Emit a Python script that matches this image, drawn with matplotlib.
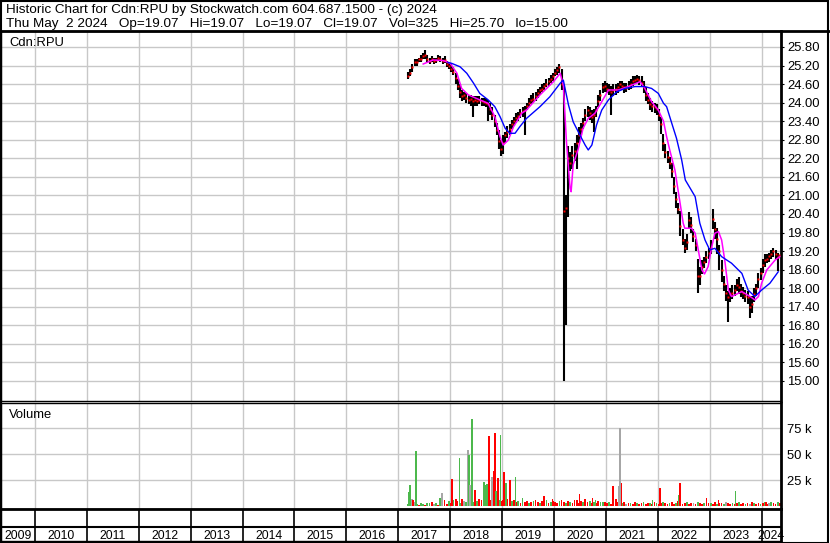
import matplotlib
matplotlib.use('Agg')
import matplotlib.pyplot as plt
from matplotlib.patches import Rectangle
from matplotlib.lines import Line2D
import numpy as np
import pandas as pd

plt.rcParams['font.family'] = ['Liberation Sans', 'DejaVu Sans']

W, H = 830, 543

# ---------------- data ----------------
title1 = "Historic Chart for Cdn:RPU by Stockwatch.com 604.687.1500 - (c) 2024"
title2 = ("Thu May  2 2024   Op=19.07   Hi=19.07   Lo=19.07   Cl=19.07   "
          "Vol=325   Hi=25.70   lo=15.00")
symbol = "Cdn:RPU"

years = list(range(2009, 2025))
price_ticks = [15.00, 15.60, 16.20, 16.80, 17.40, 18.00, 18.60, 19.20, 19.80, 20.40,
               21.00, 21.60, 22.20, 22.80, 23.40, 24.00, 24.60, 25.20, 25.80]
vol_ticks = [25, 50, 75]
vol_tick_labels = ["25 k", "50 k", "75 k"]

# half-month bars, March 2017 .. 2 May 2024
months = pd.period_range("2017-03", "2024-05", freq="M")

close = [
    24.85, 24.95, 25.15, 25.30, 25.30, 25.40, 25.40, 25.50, 25.55, 25.40, 25.35, 25.40, 25.35, 25.38, 25.45, 25.42, 25.35, 25.38, 25.25, 25.20,
    25.10, 25.00, 24.80, 24.55, 24.35, 24.20, 24.25, 24.15, 24.10, 24.12, 24.05, 24.08, 24.05, 24.10, 24.05, 24.02, 24.00, 23.95, 23.80, 23.60, 23.40, 23.10, 22.75, 22.50,
    22.70, 22.95, 23.05, 23.15, 23.30, 23.40, 23.50, 23.58, 23.65, 23.72, 23.75, 23.90, 24.00, 24.10, 24.12, 24.20, 24.30, 24.40, 24.45, 24.55, 24.60, 24.70, 24.75, 24.85,
    24.95, 25.05, 25.15, 24.60, 20.50, 20.60, 22.20, 22.05, 22.30, 22.45, 22.70, 22.95, 23.15, 23.35, 23.60, 23.75, 23.65, 23.55, 23.60, 23.75, 24.05, 24.25, 24.50, 24.55,
    24.45, 24.40, 24.35, 24.40, 24.45, 24.50, 24.60, 24.55, 24.50, 24.48, 24.55, 24.60, 24.70, 24.72, 24.78, 24.72, 24.65, 24.50, 24.25, 24.10, 23.95, 23.90, 23.85, 23.80,
    23.60, 23.30, 22.70, 22.40, 22.25, 22.05, 21.80, 21.30, 20.90, 20.55, 20.00, 19.55, 19.30, 19.50, 20.20, 20.05, 19.70, 19.40, 18.40, 18.40, 18.70, 18.85, 19.00, 19.15,
    19.30, 20.25, 19.90, 19.60, 19.20, 18.60, 18.15, 17.85, 17.70, 17.80, 17.85, 17.95, 18.10, 18.05, 17.90, 17.85, 17.75, 17.70, 17.40, 17.50, 17.80, 18.00, 18.30, 18.50,
    18.75, 18.90, 18.95, 19.05, 19.10, 19.20, 19.10, 19.00, 19.07]
high = [
    25.00, 25.10, 25.25, 25.40, 25.40, 25.45, 25.55, 25.60, 25.70, 25.55, 25.45, 25.50, 25.45, 25.45, 25.55, 25.52, 25.45, 25.50, 25.35, 25.30,
    25.25, 25.15, 24.95, 24.75, 24.60, 24.40, 24.35, 24.30, 24.25, 24.25, 24.20, 24.20, 24.20, 24.20, 24.15, 24.15, 24.15, 24.10, 24.00, 23.85, 23.60, 23.35, 23.10, 22.80,
    22.95, 23.05, 23.25, 23.30, 23.45, 23.55, 23.65, 23.70, 23.80, 23.85, 23.90, 24.00, 24.15, 24.25, 24.30, 24.35, 24.45, 24.50, 24.60, 24.65, 24.75, 24.80, 24.90, 24.95,
    25.10, 25.15, 25.25, 25.10, 24.50, 21.00, 22.60, 22.40, 22.60, 22.70, 22.95, 23.20, 23.35, 23.50, 23.80, 23.90, 23.85, 23.75, 23.80, 23.90, 24.25, 24.40, 24.65, 24.70,
    24.65, 24.60, 24.55, 24.60, 24.60, 24.65, 24.70, 24.70, 24.65, 24.62, 24.70, 24.75, 24.85, 24.85, 24.90, 24.85, 24.85, 24.70, 24.50, 24.30, 24.15, 24.05, 24.00, 23.95,
    23.80, 23.55, 23.00, 22.65, 22.45, 22.25, 22.05, 21.60, 21.10, 20.75, 20.50, 19.90, 19.60, 19.75, 20.45, 20.30, 19.90, 19.60, 18.95, 18.70, 18.90, 19.00, 19.20, 19.30,
    19.55, 20.55, 20.15, 19.95, 19.40, 18.90, 18.40, 18.10, 17.90, 18.00, 18.10, 18.10, 18.30, 18.35, 18.15, 18.05, 17.95, 17.90, 17.75, 17.75, 18.00, 18.15, 18.50, 18.65,
    18.95, 19.10, 19.10, 19.15, 19.25, 19.30, 19.25, 19.15, 19.07]
low = [
    24.75, 24.85, 25.00, 25.20, 25.20, 25.30, 25.30, 25.40, 25.40, 25.30, 25.25, 25.30, 25.25, 25.28, 25.35, 25.30, 25.25, 25.28, 25.15, 25.10,
    25.00, 24.90, 24.60, 24.40, 24.15, 24.05, 24.10, 24.00, 23.95, 23.90, 23.55, 23.90, 23.90, 23.95, 23.90, 23.90, 23.85, 23.40, 23.60, 23.45, 23.20, 22.95, 22.50, 22.28,
    22.35, 22.70, 22.85, 22.95, 23.15, 23.25, 23.35, 23.40, 23.50, 23.55, 22.95, 23.75, 23.85, 23.95, 24.00, 24.05, 24.15, 24.25, 24.35, 24.40, 24.50, 24.55, 24.65, 24.70,
    24.85, 24.90, 24.95, 24.40, 15.00, 16.80, 20.30, 21.80, 21.85, 22.10, 21.85, 22.70, 22.95, 23.15, 23.40, 23.55, 23.45, 23.35, 23.05, 23.55, 23.85, 24.05, 24.30, 24.35,
    24.30, 24.25, 23.60, 24.20, 24.25, 24.30, 24.45, 24.40, 24.30, 24.35, 24.40, 24.45, 24.55, 24.60, 24.62, 24.58, 24.50, 24.30, 24.05, 23.95, 23.75, 23.70, 23.65, 23.60,
    23.40, 23.00, 22.45, 22.20, 22.05, 21.85, 21.55, 21.05, 20.60, 20.40, 19.70, 19.40, 19.15, 19.25, 19.90, 19.80, 19.50, 19.20, 17.85, 18.10, 18.45, 18.65, 18.80, 18.95,
    19.10, 19.90, 19.60, 19.10, 18.60, 18.20, 17.90, 17.60, 16.92, 17.55, 17.65, 17.75, 17.90, 17.80, 17.70, 17.65, 17.55, 17.50, 17.05, 17.20, 17.55, 17.75, 18.00, 18.25,
    18.50, 18.70, 18.80, 18.85, 18.95, 19.00, 18.95, 18.55, 19.07]

# short moving average (magenta)
ma_short_x = [2017.48, 2017.67, 2017.87, 2018.00, 2018.13, 2018.22, 2018.35, 2018.57, 2018.73,
              2018.86, 2018.96, 2019.02, 2019.12, 2019.22, 2019.38, 2019.47, 2019.73, 2019.99,
              2020.12, 2020.18, 2020.24, 2020.31, 2020.33, 2020.37, 2020.47, 2020.56, 2020.66,
              2020.79, 2020.92, 2021.05, 2021.24, 2021.43, 2021.66, 2021.75, 2021.88, 2022.01,
              2022.11, 2022.17, 2022.23, 2022.33, 2022.40, 2022.49, 2022.52, 2022.65, 2022.72,
              2022.78, 2022.85, 2022.90, 2022.97, 2023.04, 2023.10, 2023.17, 2023.23, 2023.29,
              2023.36, 2023.42, 2023.62, 2023.78, 2023.87, 2023.94, 2024.00, 2024.10, 2024.26,
              2024.35]
ma_short_y = [25.25, 25.38, 25.36, 25.27, 24.95, 24.46, 24.25, 24.09, 23.98,
              23.55, 22.90, 22.63, 22.79, 23.22, 23.66, 23.76, 24.25, 24.68,
              24.95, 24.57, 22.74, 21.23, 21.12, 21.99, 22.52, 23.17, 23.49,
              23.66, 24.03, 24.41, 24.41, 24.52, 24.68, 24.46, 24.03, 23.76,
              23.40, 22.90, 22.47, 21.82, 21.07, 20.10, 19.94, 19.94, 19.78,
              19.24, 18.59, 18.46, 18.70, 19.34, 19.78, 19.83, 19.56, 18.91,
              17.94, 17.73, 17.89, 17.73, 17.62, 17.73, 18.16, 18.59, 18.91,
              19.02]

# long moving average (blue)
ma_long_x = [2017.96, 2018.03, 2018.19, 2018.32, 2018.45, 2018.57, 2018.73, 2018.86, 2018.96,
             2019.06, 2019.15, 2019.25, 2019.34, 2019.47, 2019.73, 2019.92, 2020.12, 2020.18,
             2020.28, 2020.37, 2020.50, 2020.60, 2020.66, 2020.73, 2020.82, 2020.92, 2021.05,
             2021.21, 2021.37, 2021.56, 2021.75, 2021.88, 2022.01, 2022.11, 2022.17, 2022.27,
             2022.36, 2022.46, 2022.53, 2022.72, 2022.81, 2022.91, 2023.00, 2023.10, 2023.23,
             2023.42, 2023.62, 2023.74, 2023.87, 2024.00, 2024.16, 2024.32]
ma_long_y = [25.30, 25.27, 25.16, 24.95, 24.63, 24.30, 24.09, 23.87, 23.55,
             23.17, 23.01, 23.01, 23.22, 23.49, 23.87, 24.19, 24.63, 24.73,
             23.92, 23.38, 22.95, 22.63, 22.47, 22.63, 23.28, 23.76, 24.09,
             24.35, 24.46, 24.52, 24.52, 24.46, 24.30, 23.98, 23.87, 23.33,
             22.85, 22.15, 21.50, 20.96, 20.10, 19.56, 19.24, 19.29, 19.02,
             18.81, 18.48, 17.94, 17.73, 17.94, 18.16, 18.53]

# larger volume bars (thousands of shares)
vol_big_x = [2017.20, 2017.23, 2017.26, 2017.28, 2017.34, 2017.55, 2017.80, 2017.84, 2017.89,
             2018.03, 2018.11, 2018.18, 2018.34, 2018.36, 2018.38, 2018.42, 2018.48, 2018.65,
             2018.68, 2018.71, 2018.75, 2018.81, 2018.84, 2018.86, 2018.88, 2018.92, 2018.97,
             2019.04, 2019.08, 2019.15, 2019.26, 2019.39, 2019.81, 2019.97, 2020.44, 2020.49,
             2020.60, 2020.74, 2020.80, 2020.95, 2021.14, 2021.19, 2021.24, 2021.27, 2021.30,
             2021.90, 2022.04, 2022.40, 2022.43, 2022.94, 2023.17, 2023.50, 2024.08]
vol_big = [14, 20.5, 7, 6, 53, 3, 7.7, 12.5, 6,
           26, 7, 46.7, 54, 49.3, 20.5, 84, 15.7, 23,
           20.5, 21, 67.6, 28, 34, 70, 15, 27, 68.5,
           33, 22, 25, 28, 7.5, 10, 7, 6, 12,
           7, 8, 6, 4.5, 19.5, 7, 19.5, 75, 22,
           6, 17.6, 11, 22, 8, 6, 14.7, 4]
vol_big_col = "ggkrgggkrrrgkgkgrgggrkrrgrgrgrggrrrrrrggrrkkrgrgrrrgr"

# everyday small volume, two bars per month (thousands)
vol_small = [2, 3, 1, 4, 2, 1, 3, 2, 1, 2, 3, 4, 2, 3, 1, 2, 4, 3, 2, 5,
             3, 6, 4, 5, 3, 7, 5, 4, 6, 8, 4, 6, 5, 7, 6, 9, 5, 8, 6, 7, 5, 8, 6, 5,
             6, 5, 7, 4, 5, 6, 4, 5, 3, 6, 4, 5, 3, 4, 5, 6, 4, 3, 5, 4, 6, 3, 4, 5,
             4, 3, 5, 6, 4, 3, 5, 4, 3, 6, 4, 3, 5, 4, 3, 4, 5, 3, 4, 3, 5, 4, 3, 4,
             3, 4, 2, 3, 3, 4, 2, 3, 4, 2, 3, 3, 2, 4, 3, 2, 3, 4, 2, 3, 3, 2, 4, 3,
             2, 3, 4, 3, 2, 3, 4, 2, 3, 5, 3, 2, 3, 4, 2, 3, 3, 2, 4, 3, 2, 3, 5, 3,
             3, 2, 4, 2, 3, 3, 2, 4, 3, 2, 3, 2, 3, 4, 2, 3, 2, 3, 2, 4, 3, 2, 3, 2,
             3, 4, 2, 3, 4, 3, 2, 4, 3, 2]
vol_small_col = ("grgkgrggrggrkgrgrgrg"
                 "rgrrgrkgrrgrgrrgkrrgrrgr"
                 "rgrrgrrgrgrrgrgrrgrrgrgr"
                 "rrgrrgrgrrgrrgrrgrgrrgrr"
                 "rgrrgrrgrkrgrrgrrgrrgrrg"
                 "rrgrrgrrgrgrrgrrkrgrrgrr"
                 "grrgrrgkrrgrrgrrgrkrgrrg"
                 "rgrkgrrgrg")

# ---------------- helpers ----------------
COL = {'g': '#4cb84c', 'r': '#ff0000', 'k': '#a6a6a6'}
GRID = '#c8c8c8'
X0, X1 = 2009.345, 2024.374
FS = 9.4
FS_HEAD = 9.7

half_x = []
for i in range(len(close)):
    p = months[i // 2]
    half_x.append(p.year + (p.month - 1 + (0.25 if i % 2 == 0 else 0.75)) / 12.0)
half_x[-1] = 2024 + (4 + 2 / 31.0) / 12.0
n_bar = min(len(close), len(high), len(low))

fig = plt.figure(figsize=(W / 100, H / 100), dpi=100)
fig.patch.set_facecolor('white')


def px_axes(x0, y0, x1, y1):
    return fig.add_axes([x0 / W, 1 - y1 / H, (x1 - x0) / W, (y1 - y0) / H])


def style(ax):
    ax.set_xlim(X0, X1)
    ax.set_xticks([])
    for s in ax.spines.values():
        s.set_color('black')
        s.set_linewidth(1.0)
    ax.spines['right'].set_linewidth(2.0)
    ax.set_facecolor('white')


# ---------------- price panel ----------------
ax = px_axes(1, 31, 781, 401)
style(ax)
ax.set_ylim(14.353, 26.317)
for yv in years[1:]:
    ax.axvline(yv, color=GRID, lw=1.0, zorder=0)
for t in price_ticks:
    ax.axhline(t, color=GRID, lw=1.0, zorder=0)
ax.yaxis.tick_right()
ax.set_yticks(price_ticks)
ax.set_yticklabels([f"{t:.2f}" for t in price_ticks])
ax.tick_params(axis='y', length=2.2, width=0.8, pad=2.2, labelsize=FS, colors='black')

ax.vlines(half_x[:n_bar], low[:n_bar], high[:n_bar], color='black', lw=1.5, zorder=2)
ax.plot(half_x[:n_bar], close[:n_bar], 's', color='#ff0000', ms=2.0, mec='none', zorder=3)
ax.plot(ma_short_x, ma_short_y, color='#ff00ff', lw=1.1, zorder=4)
ax.plot(ma_long_x, ma_long_y, color='#0000ff', lw=1.0, zorder=5)
ax.text(8 / 780, 1 - 14.5 / 370, symbol, transform=ax.transAxes, fontsize=FS,
        va='baseline', ha='left')

# ---------------- volume panel ----------------
av = px_axes(1, 403, 781, 509)
style(av)
av.set_ylim(-2.6, 99.3)
for yv in years[1:]:
    av.axvline(yv, color=GRID, lw=1.0, zorder=0)
for t in vol_ticks:
    av.axhline(t, color=GRID, lw=1.0, zorder=0)
av.yaxis.tick_right()
av.set_yticks(vol_ticks)
av.set_yticklabels(vol_tick_labels)
av.tick_params(axis='y', length=0, pad=4.0, labelsize=FS, colors='black')

n_small = min(len(vol_small), len(vol_small_col), 2 * len(months))
sx = []
for i in range(n_small):
    p = months[i // 2]
    sx.append(p.year + (p.month - 1 + (0.25 if i % 2 == 0 else 0.72)) / 12.0)
av.bar(sx, vol_small[:n_small], width=0.032, bottom=0,
       color=[COL[c] for c in vol_small_col[:n_small]], zorder=2, linewidth=0)
n_big = min(len(vol_big_x), len(vol_big), len(vol_big_col))
av.bar(vol_big_x[:n_big], vol_big[:n_big], width=0.032, bottom=0,
       color=[COL[c] for c in vol_big_col[:n_big]], zorder=3, linewidth=0)
av.text(8 / 780, 1 - 15 / 106, "Volume", transform=av.transAxes, fontsize=FS,
        va='baseline', ha='left')

# ---------------- year strip ----------------
ay = px_axes(1, 509, 781, 541)
style(ay)
ay.spines['top'].set_linewidth(2.0)
ay.set_ylim(32, 0)
ay.set_yticks([])
ay.axhline(18, color='black', lw=1.5)
for yv in years[1:]:
    ay.axvline(yv, color='black', lw=1.2)
for yv in years:
    lo_ = max(yv, X0)
    hi_ = min(yv + 1, X1)
    ay.text((lo_ + hi_) / 2, 30, str(yv), ha='center', va='baseline', fontsize=8.8,
            clip_on=False)

# ---------------- header and frame ----------------
fig.text(6 / W, 1 - 13.3 / H, title1, fontsize=FS_HEAD, va='baseline', ha='left')
fig.text(6 / W, 1 - 27.5 / H, title2, fontsize=FS_HEAD, va='baseline', ha='left')
fig.add_artist(Line2D([0, 1], [1 - 30.5 / H, 1 - 30.5 / H], color='black', lw=2.0,
                      transform=fig.transFigure))
fig.add_artist(Rectangle((0.5 / W, 0.5 / H), 1 - 2.5 / W, 1 - 1.5 / H, fill=False,
                         edgecolor='black', lw=1.5, transform=fig.transFigure))

fig.savefig('out.png', dpi=100, facecolor='white')
